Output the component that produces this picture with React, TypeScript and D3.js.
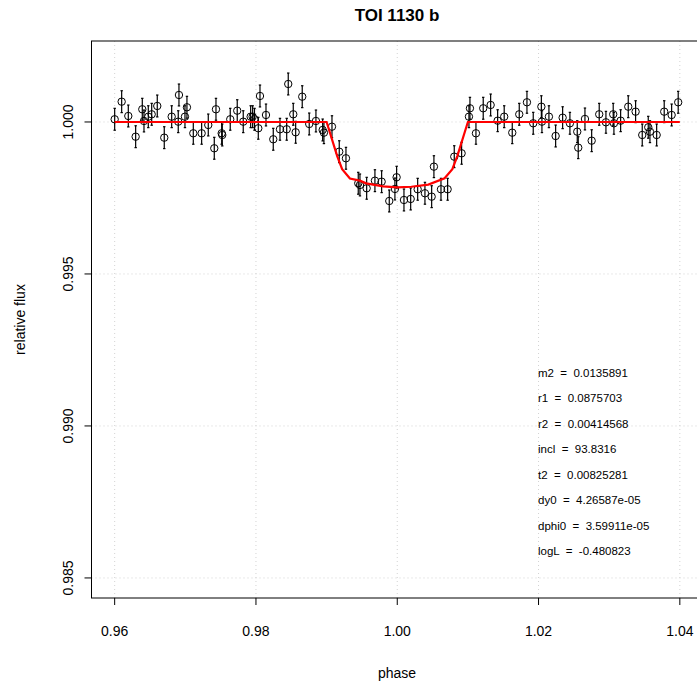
import React from "react";
import * as d3 from "d3";

const phase = [
  0.9600, 0.96099, 0.96193, 0.96297, 0.96391, 0.96415, 0.96476, 0.96524, 0.96603, 0.96702,
  0.96807, 0.96910, 0.96900, 0.96995, 0.97023, 0.97113, 0.97231, 0.97325, 0.97410, 0.97434,
  0.97515, 0.97523, 0.97636, 0.97735, 0.97820, 0.97925, 0.97953, 0.97979, 0.98033, 0.98057,
  0.98142, 0.98245, 0.98340, 0.98435, 0.98457, 0.98528, 0.98562, 0.98655, 0.98754, 0.98849,
  0.98944, 0.98962, 0.99076, 0.99179, 0.99274, 0.99448, 0.99472, 0.99567, 0.99684, 0.99779,
  0.99887, 0.99967, 0.99991, 1.00095, 1.00190, 1.00289, 1.00392, 1.00487, 1.00519, 1.00619,
  1.00713, 1.00807, 1.00911, 1.01015, 1.01029, 1.01114, 1.01217, 1.01322, 1.01421, 1.01514,
  1.01628, 1.01727, 1.01836, 1.01925, 1.02040, 1.02048, 1.02147, 1.02242, 1.02341, 1.02444,
  1.02548, 1.02562, 1.02657, 1.02752, 1.02859, 1.02954, 1.03057, 1.03067, 1.03162, 1.03270,
  1.03374, 1.03468, 1.03553, 1.03577, 1.03672, 1.03779, 1.03884, 1.03977,
];

const flux = [
  1.000089, 1.000668, 1.000197, 0.999516, 1.000418, 1.000033, 1.000174, 1.000253, 1.000526, 0.999484,
  1.000174, 1.000888, 1.000010, 1.000174, 1.000484, 0.999628, 0.999628, 0.999901, 0.999135, 1.000418,
  0.999628, 0.999572, 1.000089, 1.000372, 1.000010, 1.000174, 1.000174, 1.000089, 0.999793, 1.000855,
  1.000230, 0.999431, 0.999760, 0.999760, 1.001250, 1.000253, 0.999661, 1.000832, 0.999934, 1.000033,
  0.999737, 0.999648, 0.999845, 0.999023, 0.998806, 0.997984, 0.997928, 0.997819, 0.998069, 0.998036,
  0.997401, 0.997796, 0.998181, 0.997434, 0.997467, 0.997786, 0.997655, 0.997543, 0.998530, 0.997786,
  0.997786, 0.998859, 0.998970, 1.000174, 1.000451, 0.999628, 1.000451, 1.000559, 1.000043, 1.000174,
  0.999648, 1.000253, 1.000648, 0.999957, 1.000503, 1.000010, 1.000174, 0.999539, 1.000141, 0.999957,
  0.999681, 0.999155, 1.000099, 0.999385, 1.000253, 0.999990, 1.000253, 0.999957, 1.000043, 1.000503,
  1.000339, 0.999572, 0.999826, 0.999681, 0.999572, 1.000339, 1.000230, 1.000648,
];

const fluxErr = 0.00036;

const modelPhase = [
  0.9600, 0.9900, 0.9915, 0.9922, 0.9933, 0.9947, 0.9956, 0.9980, 1.0000,
  1.0020, 1.0044, 1.0067, 1.0078, 1.0085, 1.0100, 1.0400,
];
const modelFlux = [
  1.0, 1.0, 0.99888, 0.99845, 0.99814, 0.99807, 0.99798, 0.99788, 0.99785,
  0.99787, 0.99794, 0.99815, 0.99845, 0.99888, 1.0, 1.0,
];

const xTicks = [0.96, 0.98, 1.0, 1.02, 1.04];
const xTickLabels = ["0.96", "0.98", "1.00", "1.02", "1.04"];
const yTicks = [0.985, 0.99, 0.995, 1.0];
const yTickLabels = ["0.985", "0.990", "0.995", "1.000"];

const paramNames = ["m2", "r1", "r2", "incl", "t2", "dy0", "dphi0", "logL"];
const paramValues = [
  "0.0135891", "0.0875703", "0.00414568", "93.8316", "0.00825281",
  "4.26587e-05", "3.59911e-05", "-0.480823",
];

const title = "TOI 1130 b";
const xLabel = "phase";
const yLabel = "relative flux";

const W = 697;
const H = 682;
const left = 91.5;
const right = 703;
const top = 41;
const bottom = 598;
const FONT = "'Liberation Sans', Arial, Helvetica, sans-serif";

export default function App() {
  const x = d3.scaleLinear().domain([0.95672, 1.04328]).range([left, right]);
  const y = d3.scaleLinear().domain([0.98434, 1.002664]).range([bottom, top]);

  const line = d3
    .line<number>()
    .x((_, i) => x(modelPhase[i]))
    .y((d) => y(d));

  return (
    <svg
      width={W}
      height={H}
      style={{ position: "absolute", left: 0, top: 0, background: "#fff" }}
      fontFamily={FONT}
    >
      <rect x={0} y={0} width={W} height={H} fill="#fff" />
      {xTicks.map((t) => (
        <line key={"gx" + t} x1={x(t)} x2={x(t)} y1={top} y2={bottom}
          stroke="#d3d3d3" strokeDasharray="1,3" strokeWidth={1} />
      ))}
      {yTicks.map((t) => (
        <line key={"gy" + t} x1={left} x2={right} y1={y(t)} y2={y(t)}
          stroke="#d3d3d3" strokeDasharray="1,3" strokeWidth={1} />
      ))}
      {phase.map((p, i) => {
        const cx = x(p);
        const y1 = y(flux[i] + fluxErr);
        const y2 = y(flux[i] - fluxErr);
        return (
          <g key={"e" + i} stroke="#000" strokeWidth={1.2}>
            <line x1={cx} x2={cx} y1={y1} y2={y2} />
            <line x1={cx - 1.2} x2={cx + 1.2} y1={y1} y2={y1} />
            <line x1={cx - 1.2} x2={cx + 1.2} y1={y2} y2={y2} />
          </g>
        );
      })}
      {phase.map((p, i) => (
        <circle key={"p" + i} cx={x(p)} cy={y(flux[i])} r={3.7}
          fill="none" stroke="#000" strokeWidth={1} />
      ))}
      <path d={line(modelFlux) || ""} fill="none" stroke="#ff0000" strokeWidth={2.2} />
      <rect x={left} y={top} width={right - left} height={bottom - top}
        fill="none" stroke="#000" strokeWidth={1} />
      {xTicks.map((t, i) => (
        <g key={"xt" + t}>
          <line x1={x(t)} x2={x(t)} y1={bottom} y2={bottom + 7} stroke="#000" />
          <text x={x(t)} y={636} textAnchor="middle" fontSize={14}>{xTickLabels[i]}</text>
        </g>
      ))}
      {yTicks.map((t, i) => (
        <g key={"yt" + t}>
          <line x1={left - 7} x2={left} y1={y(t)} y2={y(t)} stroke="#000" />
          <text transform={`translate(73,${y(t)}) rotate(-90)`} textAnchor="middle" fontSize={14}>
            {yTickLabels[i]}
          </text>
        </g>
      ))}
      <text x={397} y={678} textAnchor="middle" fontSize={14}>{xLabel}</text>
      <text transform={`translate(25,${(top + bottom) / 2}) rotate(-90)`} textAnchor="middle" fontSize={14}>
        {yLabel}
      </text>
      <text x={397} y={21} textAnchor="middle" fontSize={17} fontWeight="bold">{title}</text>
      {paramNames.map((n, i) => (
        <text key={"pm" + n} x={538} y={376.5 + i * 25.5} fontSize={11.5} style={{ whiteSpace: "pre" }}>
          {`${n}  =  ${paramValues[i]}`}
        </text>
      ))}
    </svg>
  );
}
